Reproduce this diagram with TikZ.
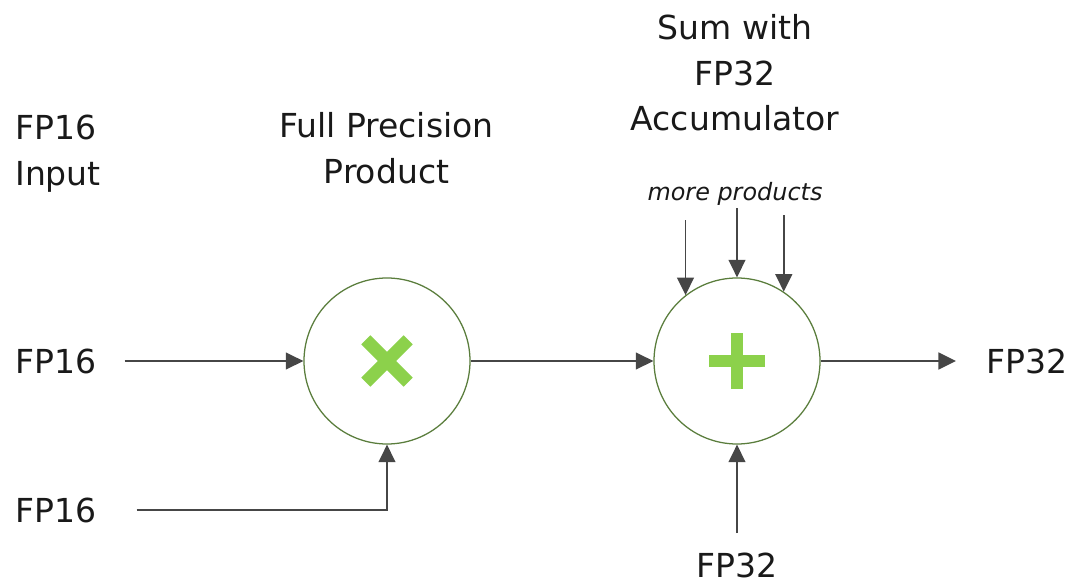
\documentclass[tikz,border=0pt]{standalone}
\usepackage{fontspec}
\setmainfont{DejaVu Sans}
\usetikzlibrary{arrows.meta}
\definecolor{opgreen}{RGB}{90,125,60}
\definecolor{signgreen}{RGB}{140,209,75}
\definecolor{wire}{RGB}{70,70,70}
\definecolor{ink}{RGB}{25,25,25}

\begin{document}
\begin{tikzpicture}[
  op/.style={minimum size=4.15cm,draw=opgreen,line width=0.9pt,circle,fill=white},
  lbl/.style={inner sep=0,text=ink,font=\fontsize{23.5}{32.5}\selectfont},
  arr/.style={draw=wire,line width=1.3pt,-{Triangle[length=12.5pt,width=12pt]}},
  sign/.style={signgreen,line width=0.32cm}
]
\useasboundingbox (0,0) rectangle (26.675,14.65);
\draw (9.675,5.625) node[op](mul) {};
\draw (18.425,5.625) node[op](sum) {};
% signs inside the circles
\draw[sign] ([shift={(-0.53,-0.53)}]mul.center) -- ([shift={(0.53,0.53)}]mul.center);
\draw[sign] ([shift={(-0.53,0.53)}]mul.center) -- ([shift={(0.53,-0.53)}]mul.center);
\draw[sign] ([xshift=-0.7cm]sum.center) -- ([xshift=0.7cm]sum.center);
\draw[sign] ([yshift=-0.7cm]sum.center) -- ([yshift=0.7cm]sum.center);
% labels
\draw (0.375,11.775) node[lbl,anchor=north west,align=left](title1) {FP16\\Input};
\draw (9.66,11.85) node[lbl,anchor=north,align=center](title2) {Full Precision\\Product};
\draw (18.375,14.3) node[lbl,anchor=north,align=center](title3) {Sum with\\FP32\\Accumulator};
\draw (18.375,9.65) node[lbl,anchor=base,font=\fontsize{17}{20}\selectfont\itshape](more) {more products};
\draw (0.375,5.625) node[lbl,anchor=west](inA) {FP16};
\draw (0.375,1.9) node[lbl,anchor=west](inB) {FP16};
\draw (24.65,5.625) node[lbl,anchor=west](out) {FP32};
\draw (18.425,0.52) node[lbl](acc) {FP32};
% connectors
\draw[arr] ([xshift=0.7cm]inA.east) -- (mul);
\draw[arr] ([xshift=1cm]inB.east) -| (mul.south);
\draw[arr] (mul) -- (sum);
\draw[arr] (sum) -- ([xshift=-0.75cm]out.west);
\draw[arr] ([yshift=0.48cm]acc.north) -- (sum.south);
\draw[arr] ([yshift=-0.375cm]more.south -| sum.128) -- (sum.128);
\draw[arr] ([yshift=-0.075cm]more.south -| sum.90) -- (sum.90);
\draw[arr] ([yshift=-0.25cm]more.south -| sum.56) -- (sum.56);
\end{tikzpicture}
\end{document}
